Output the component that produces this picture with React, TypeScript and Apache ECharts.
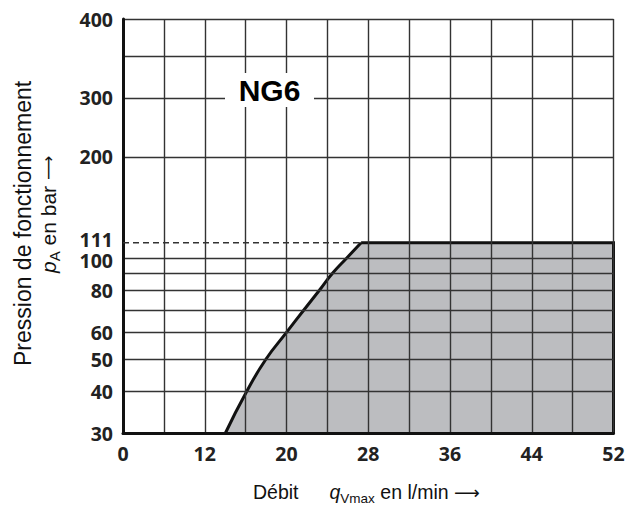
import { useEffect, useRef } from 'react';
import * as echarts from 'echarts';

// Flow axis (l/min): grid every 4, first cell boundary labelled 0
const flowMin = 4;
const flowMax = 52;
const flowStep = 4;
const flowLabelValues = [4, 12, 20, 28, 36, 44, 52];
const flowLabelText = ['0', '12', '20', '28', '36', '44', '52'];

// Pressure axis (bar), logarithmic; the top edge carries the "400" label
const pressureMin = 30;
const pressureMax = 515;
const pressureGrid = [30, 40, 50, 60, 70, 80, 90, 100, 200, 300, 400, 515];
const pressureLabelValues = [30, 40, 50, 60, 80, 100, 200, 300, 515];
const pressureLabelText = ['30', '40', '50', '60', '80', '100', '200', '300', '400'];

// Operating limit of NG6
const limitFlow = [14, 16.1, 18, 20, 21.7, 23.2, 24.5, 25.9, 27.3, 52, 52];
const limitPressure = [30, 40, 50, 60, 70, 80, 90, 100, 111, 111, 30];
const ratedPressure = 111;

const GRID_COLOR = '#333';
const INK = '#111';
const TICK_FONT = {
  fontFamily: 'Open Sans',
  fontWeight: 'bold' as const,
  fontSize: 19.5,
  lineHeight: 15,
  color: '#222',
};

function labelFor(values: number[], texts: string[], v: number, log: boolean): string {
  for (let i = 0; i < values.length; i++) {
    const d = log ? Math.abs(Math.log(v / values[i])) : Math.abs(v - values[i]);
    if (d < 1e-3) return texts[i];
  }
  return '';
}

export default function App() {
  const ref = useRef<HTMLDivElement>(null);

  useEffect(() => {
    if (!ref.current) return;
    const chart = echarts.init(ref.current, null, { renderer: 'svg' });

    const limitData = limitFlow.map((x, i) => [x, limitPressure[i]]);
    const kneeIdx = limitPressure.indexOf(ratedPressure);
    const kneeFlow = limitFlow[kneeIdx];

    chart.setOption({
      animation: false,
      backgroundColor: '#fff',
      grid: { left: 123, top: 19, right: 14.5, bottom: 72.5 },
      xAxis: {
        type: 'value',
        min: flowMin,
        max: flowMax,
        interval: flowStep,
        z: 10,
        axisLine: { show: true, onZero: false, lineStyle: { color: INK, width: 3 } },
        axisTick: { show: false },
        splitLine: { show: true, lineStyle: { color: GRID_COLOR, width: 1.4 } },
        axisLabel: {
          ...TICK_FONT,
          margin: 12,
          customValues: flowLabelValues,
          formatter: (v: number) => labelFor(flowLabelValues, flowLabelText, v, false),
        },
      },
      yAxis: {
        type: 'log',
        logBase: 10,
        min: pressureMin,
        max: pressureMax,
        z: 10,
        axisLine: { show: true, onZero: false, lineStyle: { color: INK, width: 3 } },
        axisTick: { show: false, customValues: pressureGrid },
        splitLine: { show: true, lineStyle: { color: GRID_COLOR, width: 1.4 } },
        axisLabel: {
          ...TICK_FONT,
          margin: 10,
          customValues: pressureLabelValues,
          formatter: (v: number) => {
            const t = labelFor(pressureLabelValues, pressureLabelText, v, true);
            // nudged down, clear of the rated-pressure label above it
            return t === '100' ? '{dn|100}' : t;
          },
          rich: {
            dn: { ...TICK_FONT, lineHeight: 13, padding: [5, 0, 0, 0] },
          },
        },
      },
      series: [
        {
          // permitted operating range (filled)
          type: 'line',
          data: limitData,
          symbol: 'none',
          z: 2,
          lineStyle: { width: 0, opacity: 0 },
          areaStyle: { color: '#bcbdc0', opacity: 1, origin: 'start' },
        },
        {
          // rising part of the limit curve
          type: 'line',
          data: limitData.slice(0, kneeIdx + 1),
          symbol: 'none',
          smooth: 0.5,
          z: 3,
          lineStyle: { color: INK, width: 3 },
        },
        {
          // rated pressure plateau and right edge
          type: 'line',
          data: limitData.slice(kneeIdx),
          symbol: 'none',
          z: 3,
          lineStyle: { color: INK, width: 3, join: 'miter' },
        },
        {
          // dashed reference at rated pressure, labelled on the axis side
          type: 'line',
          data: [
            {
              value: [flowMin, ratedPressure],
              label: {
                show: true,
                position: 'left',
                distance: 10,
                offset: [0, -3],
                formatter: () => String(ratedPressure),
                ...TICK_FONT,
              },
            },
            [kneeFlow, ratedPressure],
          ],
          symbol: 'circle',
          symbolSize: 0.01,
          showSymbol: true,
          itemStyle: { color: 'rgba(0,0,0,0)' },
          z: 11,
          lineStyle: { color: GRID_COLOR, width: 1.3, type: [6, 4] },
        },
      ],
      graphic: [
        {
          type: 'rect',
          z: 100,
          shape: { x: 225, y: 73, width: 89, height: 34 },
          style: { fill: '#fff' },
        },
        {
          type: 'text',
          z: 101,
          x: 269.5,
          y: 90,
          style: {
            text: 'NG6',
            fontFamily: 'Liberation Sans',
            fontWeight: 'bold',
            fontSize: 30,
            fill: '#000',
            align: 'center',
            verticalAlign: 'middle',
          },
        },
        {
          type: 'text',
          z: 100,
          x: 23,
          y: 366,
          rotation: Math.PI / 2,
          style: {
            text: 'Pression de fonctionnement',
            fontFamily: 'Liberation Sans',
            fontSize: 23,
            fill: INK,
            align: 'left',
            verticalAlign: 'middle',
          },
        },
        {
          type: 'text',
          z: 100,
          x: 48,
          y: 273,
          rotation: Math.PI / 2,
          style: {
            text: '{i|p}{s|A}{n| en bar }{r|⟶}',
            fontFamily: 'Liberation Sans',
            fontSize: 21,
            fill: INK,
            align: 'left',
            verticalAlign: 'middle',
            rich: {
              i: { fontFamily: 'Liberation Sans', fontStyle: 'italic', fontSize: 21, fill: INK },
              s: { fontFamily: 'Liberation Sans', fontSize: 15, fill: INK, padding: [12, 0, 0, 0] },
              n: { fontFamily: 'Liberation Sans', fontSize: 21, fill: INK },
              r: { fontFamily: 'DejaVu Sans', fontSize: 17, fill: INK },
            },
          },
        },
        {
          type: 'text',
          z: 100,
          x: 253,
          y: 492,
          style: {
            text: '{a|Débit}{i|q}{s|Vmax}{n| en l/min }{r|⟶}',
            fontFamily: 'Liberation Sans',
            fontSize: 19.5,
            fill: INK,
            align: 'left',
            verticalAlign: 'middle',
            rich: {
              a: { fontFamily: 'Liberation Sans', fontSize: 19.5, fill: INK, padding: [0, 31, 0, 0] },
              i: { fontFamily: 'Liberation Sans', fontStyle: 'italic', fontSize: 19.5, fill: INK },
              s: { fontFamily: 'Liberation Sans', fontSize: 13.5, fill: INK, padding: [12, 0, 0, 0] },
              n: { fontFamily: 'Liberation Sans', fontSize: 19.5, fill: INK },
              r: { fontFamily: 'DejaVu Sans', fontSize: 18, fill: INK },
            },
          },
        },
      ],
    });

    return () => chart.dispose();
  }, []);

  return (
    <div
      ref={ref}
      style={{ position: 'fixed', left: 0, top: 0, width: 628, height: 506, background: '#fff' }}
    />
  );
}
